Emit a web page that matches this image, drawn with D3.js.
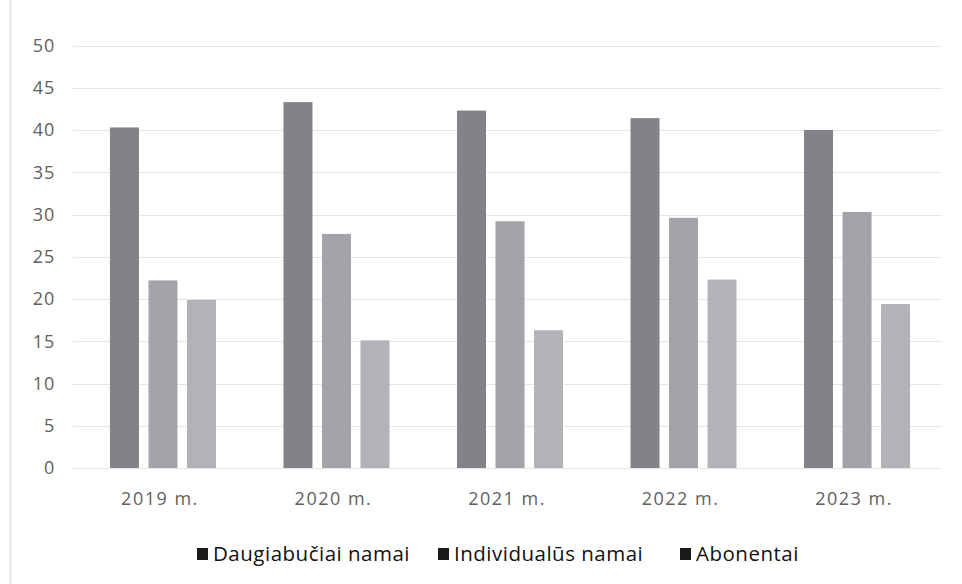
<!DOCTYPE html>
<html><head><meta charset="utf-8">
<script src="https://cdn.jsdelivr.net/npm/d3@7"></script>
<style>
html,body{margin:0;padding:0;background:#fff;}
svg{display:block;}
</style></head>
<body>
<svg id="c" width="962" height="584"></svg>
<script>
const categories = ["2019 m.", "2020 m.", "2021 m.", "2022 m.", "2023 m."];
const seriesNames = ["Daugiabučiai namai", "Individualūs namai", "Abonentai"];
const daugiabuciai = [40.3, 43.3, 42.3, 41.4, 40.0];
const individualus = [22.2, 27.7, 29.2, 29.6, 30.3];
const abonentai = [19.9, 15.1, 16.3, 22.3, 19.4];
const yTicks = [0, 5, 10, 15, 20, 25, 30, 35, 40, 45, 50];
const colors = ["#818388", "#a2a4a9", "#b1b3b8"];

const seriesValues = [daugiabuciai, individualus, abonentai];
const svg = d3.select("#c");
const font = "'Open Sans', sans-serif";

// faint scan edge on the left
svg.append("line").attr("x1", 10.5).attr("x2", 10.5).attr("y1", 0).attr("y2", 584)
  .attr("stroke", "#e2e2e2").attr("stroke-width", 1.5);

const x0 = d3.scaleBand().domain(categories).range([73, 947]).paddingInner(0.389).paddingOuter(0.213);
const x1 = d3.scaleBand().domain(seriesNames).range([0, x0.bandwidth()]).paddingInner(0.247);
const y = d3.scaleLinear().domain([0, 50]).range([468, 45.5]);

// gridlines
svg.append("g").selectAll("line").data(yTicks).join("line")
  .attr("x1", 73).attr("x2", 942)
  .attr("y1", d => Math.round(y(d)) + 0.5).attr("y2", d => Math.round(y(d)) + 0.5)
  .attr("stroke", "#e6e6e6").attr("stroke-width", 1);

// y axis labels
const yAxis = d3.axisLeft(y).tickValues(yTicks).tickSize(0).tickPadding(0);
const ya = svg.append("g").attr("transform", "translate(55,0)").call(yAxis);
ya.select(".domain").remove();
ya.selectAll("text").attr("font-family", font).attr("font-size", 18).attr("fill", "#5f5f5f")
  .attr("letter-spacing", 0.8);

// bars
const groups = svg.append("g").selectAll("g").data(categories).join("g")
  .attr("transform", d => `translate(${x0(d)},0)`);
groups.selectAll("rect").data((d, i) => seriesNames.map((s, j) => ({ s, j, v: seriesValues[j][i] })))
  .join("rect")
  .attr("x", d => x1(d.s)).attr("width", x1.bandwidth())
  .attr("y", d => y(d.v)).attr("height", d => y(0) - y(d.v))
  .attr("fill", d => colors[d.j]);

// x axis labels
const xAxis = d3.axisBottom(x0).tickSize(0).tickPadding(0);
const xa = svg.append("g").attr("transform", "translate(-3,505)").call(xAxis);
xa.select(".domain").remove();
xa.selectAll("text").attr("font-family", font).attr("font-size", 18).attr("fill", "#5f5f5f")
  .attr("letter-spacing", 1.5).attr("dy", 0).attr("y", 0);

// legend
const legStarts = [197, 438, 680];
const leg = svg.append("g").selectAll("g").data(seriesNames).join("g")
  .attr("transform", (d, i) => `translate(${legStarts[i]},0)`);
leg.append("rect").attr("x", 0).attr("y", 548).attr("width", 11).attr("height", 12).attr("fill", "#1a1a1a");
leg.append("text").attr("x", 16).attr("y", 561).text(d => d)
  .attr("font-family", font).attr("font-size", 20.5).attr("letter-spacing", 0.5).attr("fill", "#111");
</script>
</body></html>
